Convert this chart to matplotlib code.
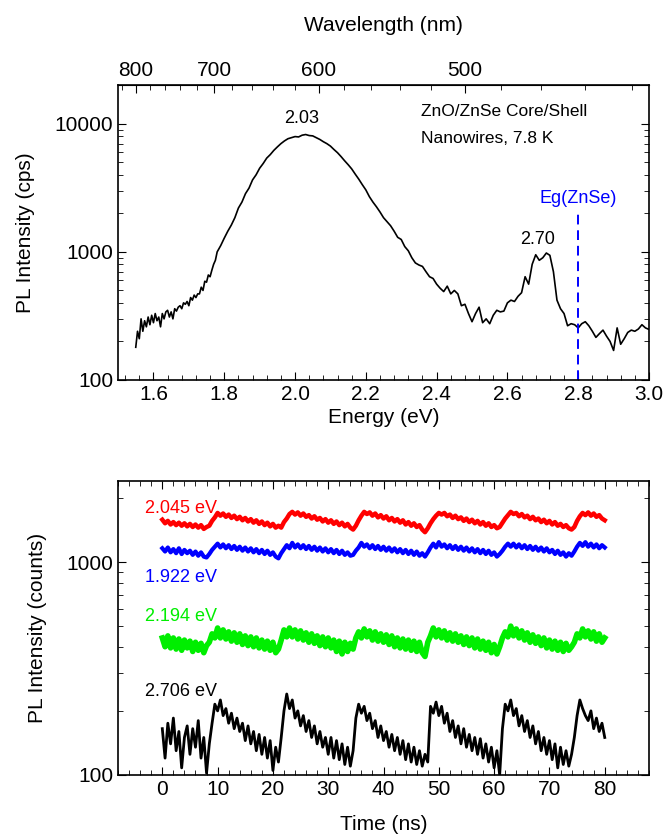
import numpy as np
import matplotlib.pyplot as plt
from matplotlib.ticker import FixedLocator, LogLocator, NullFormatter, MultipleLocator

plt.rcParams['font.family'] = ['Liberation Sans', 'DejaVu Sans']

# --- PL spectrum (top panel) ---
energy_left = [1.550, 1.555, 1.560, 1.565, 1.570, 1.575, 1.580, 1.585, 1.590, 1.595,
               1.600, 1.605, 1.610, 1.615, 1.620, 1.625, 1.630, 1.635, 1.640, 1.645,
               1.650, 1.655, 1.660, 1.665, 1.670, 1.675, 1.680, 1.685, 1.690, 1.695,
               1.700, 1.705, 1.710, 1.715, 1.720, 1.725, 1.730, 1.735, 1.740, 1.745,
               1.750, 1.755, 1.760, 1.765, 1.770, 1.775]
pl_left = [180, 240, 210, 300, 240, 290, 260, 310, 270, 320,
           280, 330, 290, 310, 260, 330, 300, 340, 350, 310,
           340, 300, 360, 345, 370, 380, 360, 400, 390, 410,
           380, 440, 420, 460, 440, 470, 470, 530, 500, 590,
           580, 660, 640, 720, 800, 860]

energy_right = [round(1.78 + 0.01 * i, 2) for i in range(123)]
pl_right = [1000, 1120, 1280, 1450, 1620, 1850, 2200, 2450, 2850, 3150,
            3650, 4000, 4500, 4900, 5400, 5750, 6200, 6600, 7000, 7350,
            7650, 7800, 7950, 7900, 8150, 8250, 8100, 8050, 7800, 7550,
            7250, 7000, 6700, 6300, 5950, 5550, 5150, 4800, 4450, 4050,
            3700, 3350, 3050, 2700, 2450, 2250, 2050, 1850, 1720, 1600,
            1450, 1300, 1250, 1100, 1020, 900, 820, 790, 770, 700,
            640, 620, 560, 520, 490, 540, 470, 500, 470, 380,
            390, 330, 285, 330, 370, 280, 300, 275, 320, 350,
            340, 345, 400, 420, 410, 450, 480, 640, 560, 800,
            950, 860, 900, 980, 940, 700, 420, 360, 330, 265,
            275, 270, 255, 275, 285, 265, 240, 215, 230, 245,
            220, 200, 170, 255, 190, 210, 235, 245, 240, 250,
            270, 255, 248]

energy = energy_left + energy_right[:len(pl_right)]
pl = pl_left + pl_right

eg_znse = 2.80

# --- time-resolved traces (bottom panel) ---
trace_labels = ["2.045 eV", "1.922 eV", "2.194 eV", "2.706 eV"]
trace_colors = ["#ff0000", "#0000ff", "#00ee00", "#000000"]
trace_widths = [3.2, 3.0, 4.0, 2.0]

red_trace = [1580, 1520, 1560, 1500, 1540, 1490, 1530, 1480, 1520, 1470,
             1510, 1460, 1500, 1450, 1490, 1430, 1460, 1480, 1560, 1620,
             1700, 1650, 1690, 1630, 1670, 1610, 1650, 1590, 1630, 1570,
             1610, 1550, 1590, 1530, 1570, 1510, 1550, 1490, 1530, 1470,
             1510, 1450, 1480, 1450, 1540, 1600, 1680, 1720, 1670, 1710,
             1650, 1690, 1630, 1660, 1600, 1640, 1580, 1610, 1550, 1590,
             1530, 1570, 1510, 1550, 1490, 1530, 1470, 1510, 1450, 1420,
             1480, 1570, 1650, 1720, 1680, 1710, 1650, 1690, 1620, 1660,
             1600, 1640, 1570, 1610, 1550, 1590, 1530, 1570, 1500, 1540,
             1480, 1520, 1460, 1490, 1420, 1380, 1440, 1520, 1590, 1650,
             1700, 1670, 1700, 1640, 1670, 1610, 1650, 1590, 1620, 1560,
             1600, 1540, 1580, 1520, 1560, 1500, 1540, 1480, 1520, 1460,
             1490, 1440, 1460, 1530, 1600, 1660, 1720, 1680, 1700, 1640,
             1680, 1620, 1650, 1590, 1630, 1570, 1600, 1540, 1580, 1520,
             1560, 1500, 1540, 1480, 1510, 1460, 1490, 1440, 1420, 1460,
             1560, 1640, 1700, 1660, 1710, 1650, 1690, 1630, 1660, 1600,
             1570]

blue_trace = [1160, 1120, 1170, 1110, 1150, 1100, 1160, 1090, 1140, 1100,
              1130, 1080, 1120, 1070, 1110, 1060, 1050, 1090, 1140, 1180,
              1220, 1170, 1210, 1160, 1200, 1150, 1190, 1140, 1180, 1130,
              1170, 1120, 1160, 1110, 1150, 1100, 1140, 1090, 1130, 1080,
              1110, 1060, 1040, 1100, 1150, 1200, 1160, 1230, 1170, 1210,
              1160, 1200, 1150, 1190, 1140, 1180, 1130, 1170, 1120, 1160,
              1110, 1150, 1100, 1140, 1090, 1130, 1080, 1110, 1070, 1080,
              1130, 1170, 1230, 1180, 1210, 1160, 1200, 1150, 1190, 1140,
              1180, 1130, 1170, 1120, 1160, 1110, 1150, 1100, 1140, 1090,
              1130, 1080, 1120, 1070, 1100, 1060, 1110, 1170, 1220, 1170,
              1240, 1180, 1210, 1160, 1200, 1150, 1190, 1140, 1180, 1130,
              1170, 1120, 1160, 1110, 1150, 1100, 1140, 1090, 1130, 1080,
              1110, 1060, 1090, 1130, 1180, 1220, 1180, 1220, 1170, 1210,
              1160, 1200, 1150, 1190, 1140, 1180, 1130, 1170, 1120, 1160,
              1110, 1140, 1090, 1130, 1080, 1110, 1060, 1100, 1070, 1120,
              1180, 1230, 1190, 1240, 1180, 1220, 1170, 1210, 1160, 1200,
              1170]

green_trace = [440, 400, 450, 395, 440, 390, 435, 385, 430, 395,
               425, 380, 420, 385, 415, 375, 405, 420, 460, 440,
               490, 440, 480, 435, 470, 425, 465, 420, 460, 410,
               450, 405, 445, 400, 440, 395, 430, 390, 425, 385,
               420, 375, 390, 430, 480, 445, 490, 445, 480, 435,
               475, 430, 465, 420, 460, 415, 450, 405, 445, 400,
               440, 395, 430, 380, 425, 370, 420, 380, 415, 390,
               440, 470, 440, 485, 445, 475, 430, 470, 425, 460,
               420, 455, 410, 450, 400, 440, 395, 435, 390, 430,
               385, 425, 380, 420, 375, 360, 420, 450, 490, 445,
               480, 440, 475, 430, 465, 425, 460, 420, 450, 410,
               445, 405, 440, 395, 435, 390, 425, 385, 420, 375,
               410, 370, 400, 440, 470, 445, 500, 450, 485, 440,
               475, 430, 465, 420, 455, 415, 445, 405, 440, 395,
               430, 390, 425, 385, 420, 380, 415, 385, 400, 420,
               460, 440, 485, 445, 475, 435, 470, 425, 460, 420,
               440]

black_trace = [165, 120, 175, 140, 185, 130, 160, 108, 150, 170,
               125, 165, 135, 180, 120, 150, 102, 140, 175, 215,
               200, 225, 190, 205, 175, 195, 165, 185, 160, 175,
               145, 170, 140, 160, 130, 155, 125, 150, 120, 145,
               105, 135, 115, 150, 200, 240, 205, 225, 185, 200,
               170, 190, 160, 180, 150, 170, 140, 160, 135, 150,
               125, 150, 120, 145, 118, 140, 112, 135, 110, 130,
               185, 215, 195, 210, 180, 195, 165, 180, 150, 170,
               145, 160, 135, 155, 130, 150, 125, 145, 118, 140,
               115, 135, 112, 130, 110, 125, 115, 210, 195, 220,
               190, 210, 175, 195, 160, 180, 150, 170, 140, 165,
               135, 155, 130, 150, 125, 148, 120, 140, 115, 135,
               108, 130, 100, 165, 215, 200, 225, 190, 205, 170,
               190, 160, 180, 150, 170, 140, 160, 130, 150, 125,
               145, 118, 140, 108, 135, 112, 130, 110, 125, 150,
               190, 225, 205, 190, 180, 200, 165, 185, 160, 175,
               150]

traces = [red_trace, blue_trace, green_trace, black_trace]
label_pos = [(-3.1, 1790), (-3.1, 850), (-3.1, 552), (-3.1, 246)]

fig = plt.figure(figsize=(6.67, 8.36), dpi=100)

# ===== top panel =====
ax1 = fig.add_axes([0.177, 0.5455, 0.796, 0.3525])
ax1.plot(energy, pl, color='black', lw=1.2)
ax1.set_yscale('log')
ax1.set_xlim(1.5, 3.0)
ax1.set_ylim(100, 20000)
ax1.xaxis.set_major_locator(MultipleLocator(0.2))
ax1.xaxis.set_minor_locator(MultipleLocator(0.04))
ax1.set_yticks([100, 1000, 10000])
ax1.set_yticklabels(['100', '1000', '10000'])
ax1.yaxis.set_minor_locator(LogLocator(base=10, subs=np.arange(2, 10)))
ax1.yaxis.set_minor_formatter(NullFormatter())
ax1.tick_params(which='both', direction='in', left=True, right=True, top=False,
                labelsize=15)
ax1.tick_params(which='major', length=6)
ax1.tick_params(which='minor', length=3.5)
ax1.xaxis.set_major_formatter(plt.FuncFormatter(lambda v, p: f"{v:.1f}"))
ax1.set_xlabel('Energy (eV)', fontsize=15, labelpad=3)
ax1.set_ylabel('PL Intensity (cps)', fontsize=15, labelpad=14)

ax1.vlines(eg_znse, 100, 2000, colors='#0000ff', linestyles=(0, (5, 3)), lw=1.4)
ax1.text(eg_znse, 2250, 'Eg(ZnSe)', color='#0000ff', fontsize=13, ha='center', va='bottom')
ax1.text(2.02, 9500, '2.03', fontsize=13, ha='center', va='bottom')
ax1.text(2.685, 1080, '2.70', fontsize=13, ha='center', va='bottom')
ax1.text(0.571, 0.912, 'ZnO/ZnSe Core/Shell', transform=ax1.transAxes, fontsize=12.5,
         ha='left', va='center')
ax1.text(0.571, 0.818, 'Nanowires, 7.8 K', transform=ax1.transAxes, fontsize=12.5,
         ha='left', va='center')


def ev2nm(x):
    x = np.asarray(x, dtype=float)
    out = np.full_like(x, np.inf)
    np.divide(1239.84, x, out=out, where=x != 0)
    return out


secax = ax1.secondary_xaxis('top', functions=(ev2nm, ev2nm))
secax.xaxis.set_major_locator(FixedLocator([500, 600, 700, 800]))
secax.xaxis.set_minor_locator(FixedLocator(list(range(420, 840, 20))))
secax.tick_params(which='both', direction='in', labelsize=15)
secax.tick_params(which='major', length=6)
secax.tick_params(which='minor', length=3.5)
secax.set_xlabel('Wavelength (nm)', fontsize=15, labelpad=22)

# ===== bottom panel =====
ax2 = fig.add_axes([0.177, 0.073, 0.796, 0.3516])
for vals, col, w in zip(traces, trace_colors, trace_widths):
    t = np.linspace(0, 80, len(vals))
    ax2.plot(t, vals, color=col, lw=w)
for lab, col, (tx, ty) in zip(trace_labels, trace_colors, label_pos):
    ax2.text(tx, ty, lab, color=col, fontsize=13, ha='left', va='center')

ax2.set_yscale('log')
ax2.set_xlim(-8, 88)
ax2.set_ylim(100, 2400)
ax2.xaxis.set_major_locator(FixedLocator([0, 10, 20, 30, 40, 50, 60, 70, 80]))
ax2.xaxis.set_minor_locator(MultipleLocator(2))
ax2.set_yticks([100, 1000])
ax2.set_yticklabels(['100', '1000'])
ax2.yaxis.set_minor_locator(LogLocator(base=10, subs=np.arange(2, 10)))
ax2.yaxis.set_minor_formatter(NullFormatter())
ax2.tick_params(which='both', direction='in', left=True, right=True, top=True,
                labelsize=15)
ax2.tick_params(which='major', length=6)
ax2.tick_params(which='minor', length=3.5)
ax2.set_xlabel('Time (ns)', fontsize=15, labelpad=12)
ax2.set_ylabel('PL Intensity (counts)', fontsize=15, labelpad=14)

for ax in (ax1, ax2):
    for s in ax.spines.values():
        s.set_linewidth(1.2)

fig.savefig('out.png', dpi=100)
